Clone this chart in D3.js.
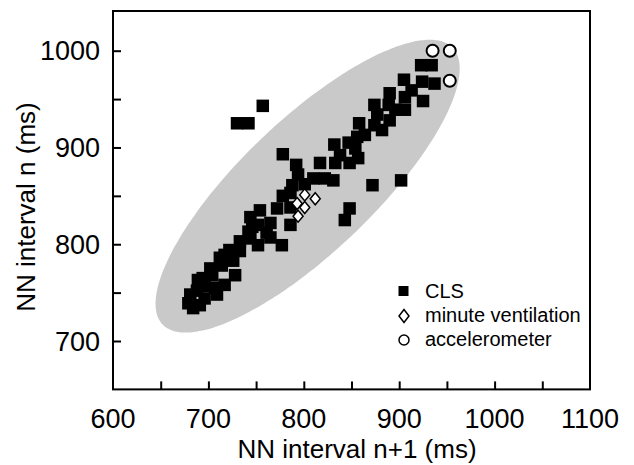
<!DOCTYPE html>
<html><head><meta charset="utf-8">
<script src="https://cdn.jsdelivr.net/npm/d3@7"></script>
<style>body{margin:0;background:#fff}svg{display:block}text{font-family:"Liberation Sans",Arial,sans-serif;fill:#000}</style>
</head><body><svg id="c" width="634" height="465"></svg>
<script>
const xTicks = [600,700,800,900,1000,1100];
const yTicks = [700,800,900,1000];
const clsX = [923,934,905,924,937,925,906,906,890,889,890,874,877,874,858,856,832,847,857,833,848,817,757,730,742,778,848,843,872,902,854,794,810,822,831,788,786,786,772,765,786,761,744,746,765,777,744,733,733,717,726,714,704,694,728,717,707,696,688,681,679,684,696,709,801,778,752,752,742,722,712,702,689,691,754,792,838,864,882,896,913];
const clsY = [985,985,970,968,966,948,952,939,956,944,928,944,934,923,925,911,903,905,889,884,884,884,943,925,925,893,837,825,861,866,899,872,868,868,866,861,853,838,837,822,820,812,828,818,807,799,806,803,793,789,783,778,768,765,768,758,755,757,752,748,739,734,744,748,862,850,820,799,813,794,786,775,763,737,835,882,892,913,918,939,959];
const mvX = [801,812,793,801,794];
const mvY = [851,847,842,838,829];
const accX = [935,953,953];
const accY = [1000,1000,969];
const ellipseC = [804,860];
const ellipseA = [152,143];
const ellipseB = [-48,49.5];

const svg = d3.select("#c");
const L=113,R=590,B=389.4;
const x = d3.scaleLinear().domain([600,1100]).range([L,R]);
const y = d3.scaleLinear().domain([700,1000]).range([341,50.7]);

// ellipse
const pts = d3.range(0,360,2).map(d=>{const t=d*Math.PI/180;return [ellipseC[0]+Math.cos(t)*ellipseA[0]+Math.sin(t)*ellipseB[0], ellipseC[1]+Math.cos(t)*ellipseA[1]+Math.sin(t)*ellipseB[1]];});
svg.append("path").attr("d", d3.line().x(d=>x(d[0])).y(d=>y(d[1])).curve(d3.curveCardinalClosed)(pts)).attr("fill","#c9c9c9");

// frame
svg.append("rect").attr("x",L).attr("y",11).attr("width",R-L).attr("height",B-11).attr("fill","none").attr("stroke","#000").attr("stroke-width",2);
const xa = svg.append("g").attr("transform",`translate(0,${B})`).call(d3.axisBottom(x).tickValues(d3.range(650,1100,50)).tickSize(-8).tickFormat(""));
const ya = svg.append("g").attr("transform",`translate(${L},0)`).call(d3.axisLeft(y).tickValues(d3.range(700,1050,50)).tickSize(-8).tickFormat(""));
[xa,ya].forEach(g=>{g.select(".domain").remove();g.selectAll("line").attr("stroke","#000").attr("stroke-width",2);});

const fs=27;
svg.append("g").selectAll("text").data(xTicks).join("text").attr("x",d=>x(d)).attr("y",428).attr("text-anchor","middle").attr("font-size",fs).text(d=>d);
svg.append("g").selectAll("text").data(yTicks).join("text").attr("x",100).attr("y",d=>y(d)+9.7).attr("text-anchor","end").attr("font-size",fs).text(d=>d);
svg.append("text").attr("x",357).attr("y",458).attr("text-anchor","middle").attr("font-size",26).text("NN interval n+1 (ms)");
svg.append("text").attr("transform",`translate(35,207) rotate(-90)`).attr("text-anchor","middle").attr("font-size",26).text("NN interval n (ms)");

// points
const s=12.5;
svg.append("g").selectAll("rect").data(clsX).join("rect").attr("x",(d,i)=>x(d)-s/2).attr("y",(d,i)=>y(clsY[i])-s/2).attr("width",s).attr("height",s).attr("fill","#000");
const diamond = "M0,-6L5,0L0,6L-5,0Z";
svg.append("g").selectAll("path").data(mvX).join("path").attr("transform",(d,i)=>`translate(${x(d)},${y(mvY[i])})`).attr("d",diamond).attr("fill","#fff").attr("stroke","#000").attr("stroke-width",1.5);
svg.append("g").selectAll("circle").data(accX).join("circle").attr("cx",d=>x(d)).attr("cy",(d,i)=>y(accY[i])).attr("r",6).attr("fill","#fff").attr("stroke","#000").attr("stroke-width",2);

// legend
const lg = svg.append("g");
lg.append("rect").attr("x",398.5).attr("y",286).attr("width",10).attr("height",10).attr("fill","#000");
lg.append("path").attr("transform","translate(404,316)").attr("d","M0,-6.5L5,0L0,6.5L-5,0Z").attr("fill","#fff").attr("stroke","#000").attr("stroke-width",1.5);
lg.append("circle").attr("cx",404).attr("cy",340).attr("r",5).attr("fill","#fff").attr("stroke","#000").attr("stroke-width",1.5);
const labels=["CLS","minute ventilation","accelerometer"];
lg.selectAll("text").data(labels).join("text").attr("x",425).attr("y",(d,i)=>298+i*24).attr("font-size",20).text(d=>d);
</script></body></html>
